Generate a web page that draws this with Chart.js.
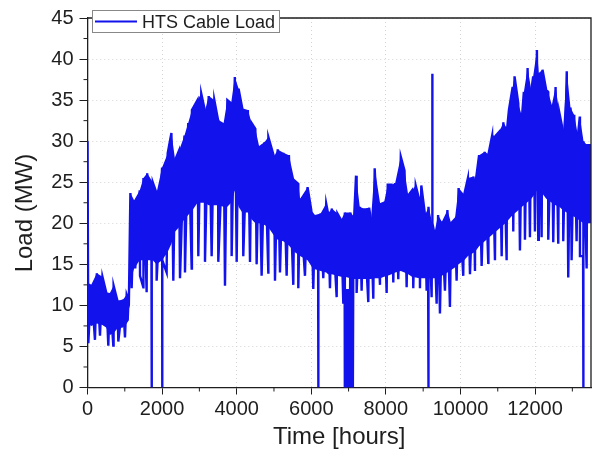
<!DOCTYPE html>
<html>
<head>
<meta charset="utf-8">
<title>HTS Cable Load</title>
<script src="https://cdn.jsdelivr.net/npm/chart.js@4.4.1/dist/chart.umd.min.js"></script>
<style>
    html, body { margin: 0; padding: 0; background: #fff; }
    canvas { display: block; }
</style>
</head>
<body>
<canvas id="loadChart" width="594" height="454"></canvas>
<script>

/* =========================
   DATA
========================= */

const seriesLabel = "HTS Cable Load";

// solid part of the band: upper envelope and the edge where it stops being solid
const bandHours = [
    0, 100, 250, 400, 500, 600, 700, 800, 950, 1050, 1110,
    1150, 1250, 1400, 1500, 1600, 1750, 1850, 2000, 2150, 2250,
    2350, 2450, 2600, 2700, 2800, 2950, 3050, 3150, 3250, 3400,
    3500, 3650, 3750, 3850, 3950, 4050, 4150, 4300, 4400, 4500,
    4600, 4750, 4850, 5000, 5100, 5250, 5400, 5550, 5650, 5700,
    5900, 6000, 6100, 6250, 6400, 6450, 6550, 6700, 6800, 6900,
    7050, 7150, 7200, 7300, 7400, 7550, 7600, 7700, 7850, 7950,
    8050, 8150, 8250, 8400, 8500, 8600, 8700, 8800, 8900, 8950,
    9050, 9150, 9300, 9400, 9500, 9650, 9750, 9850, 9950, 10100,
    10200, 10350, 10400, 10500, 10650, 10750, 10850, 10950, 11050, 11150,
    11250, 11300, 11400, 11450, 11550, 11650, 11700, 11800, 11900, 11950,
    12050, 12100, 12200, 12300, 12350, 12450, 12550, 12650, 12750, 12850,
    12950, 13050, 13150, 13200, 13300, 13400, 13500
];

const bandTop = [
    12.8, 12.5, 13.9, 13.5, 11.6, 11.5, 12.4, 10.6, 10.7, 11.3, 10.5,
    23.7, 22.8, 24.0, 25.5, 26.1, 25.0, 23.7, 26.8, 28.5, 31.0,
    27.7, 28.8, 30.7, 32.2, 33.8, 35.0, 35.8, 33.7, 35.5, 35.0,
    32.6, 32.2, 35.0, 34.6, 37.8, 36.4, 34.0, 33.8, 32.2, 31.5,
    29.4, 29.9, 30.5, 28.1, 29.0, 28.6, 28.3, 25.2, 24.8, 23.0,
    24.4, 21.6, 21.0, 21.2, 22.4, 21.2, 21.8, 21.2, 20.4, 21.3,
    21.3, 20.8, 25.8, 22.0, 21.8, 21.9, 20.4, 26.7, 22.3, 22.5,
    24.7, 24.7, 24.9, 28.1, 26.4, 23.4, 24.0, 24.6, 22.8, 24.6,
    21.0, 22.0, 18.8, 21.0, 20.2, 21.6, 20.0, 20.5, 24.3, 23.5,
    25.5, 25.7, 24.8, 28.3, 28.7, 28.4, 30.7, 30.7, 31.2, 32.3,
    31.5, 33.8, 36.6, 37.9, 34.6, 33.0, 36.0, 38.9, 36.2, 37.9,
    41.1, 38.3, 38.7, 36.2, 36.0, 34.4, 36.6, 33.5, 31.2, 38.5,
    34.1, 33.2, 30.7, 33.0, 30.0, 29.5, 29.5
];

const bandCore = [
    7.8, 7.5, 7.8, 7.6, 7.3, 6.4, 6.6, 7.2, 7.3, 7.8, 8.2,
    13.0, 14.5, 15.5, 15.5, 15.5, 15.5, 15.0, 15.5, 16.5, 17.5,
    19.0, 19.5, 20.5, 21.0, 21.5, 22.5, 22.5, 22.5, 22.2, 22.2,
    22.2, 22.0, 22.0, 22.5, 24.0, 22.0, 21.3, 21.3, 20.5, 20.0,
    20.0, 19.8, 19.5, 18.5, 18.0, 17.8, 17.3, 16.5, 16.2, 16.0,
    15.5, 14.8, 14.4, 14.2, 14.0, 13.8, 13.8, 13.6, 13.5, 13.5,
    13.3, 13.2, 13.2, 13.2, 13.2, 13.2, 13.2, 13.3, 13.3, 13.5,
    13.6, 13.8, 14.0, 14.2, 14.0, 13.8, 13.5, 13.4, 13.3, 13.3,
    13.3, 13.3, 13.3, 13.4, 13.6, 14.0, 14.3, 14.6, 15.0, 15.5,
    16.0, 16.4, 16.6, 17.2, 17.8, 18.2, 18.6, 19.0, 19.4, 19.8,
    20.2, 20.5, 21.0, 21.2, 21.6, 22.0, 22.2, 22.6, 23.0, 23.3,
    24.0, 24.0, 23.6, 23.0, 22.8, 22.5, 22.2, 22.0, 21.6, 21.3,
    21.0, 20.8, 20.5, 20.3, 20.0, 20.0, 20.0
];

// weekend dips below the band
const dipHours = [
    22, 200, 335, 558, 692, 826, 1005, 1184, 1280, 1408,
    1497, 1586, 1854, 2122, 2301, 2480, 2614, 2793, 2971, 3150,
    3329, 3507, 3686, 3865, 4000, 4177, 4357, 4535, 4669, 4848,
    5027, 5161, 5340, 5518, 5652, 5831, 6054, 6322, 6501, 6681,
    6859, 7216, 7350, 7529, 7663, 7842, 8021, 8199, 8333, 8557,
    8735, 8914, 9093, 9227, 9361, 9450, 9584, 9718, 9897, 10075,
    10255, 10389, 10568, 10745, 10925, 11105, 11238, 11416, 11595, 11729,
    11863, 11997, 12086, 12176, 12354, 12488, 12622, 12756, 12890, 12980,
    13114, 13204, 13383
];

const dipLoad = [
    5.4, 5.8, 6.3, 5.1, 5.1, 5.6, 6.1, 12.1, 14.5, 13.6,
    12.2, 11.6, 13.0, 14.0, 13.0, 13.3, 14.0, 14.5, 16.0, 15.3,
    16.0, 15.3, 12.4, 16.0, 15.3, 16.0, 15.3, 15.0, 13.6, 14.0,
    13.0, 14.0, 13.6, 12.5, 12.1, 13.6, 12.0, 13.3, 12.1, 11.0,
    10.2, 11.5, 11.8, 10.4, 10.8, 12.5, 11.5, 12.8, 13.2, 12.2,
    12.1, 12.1, 11.8, 11.0, 10.2, 9.0, 11.8, 9.8, 13.0, 13.6,
    13.8, 14.2, 14.8, 15.2, 15.5, 16.0, 15.5, 19.0, 16.7, 18.0,
    18.3, 19.0, 18.0, 18.3, 18.0, 17.7, 17.5, 17.8, 13.4, 15.5,
    17.8, 16.0, 14.5
];

// outages (drops to zero) and single surges
const spikeHours = [
    0,
    1715, 1720, 1725,
    2001, 2005, 2009,
    6184, 6188, 6192,
    6895, 6900, 6935, 6950, 6965, 7000, 7015, 7030, 7080, 7090, 7115, 7125,
    9133, 9137, 9141,
    9241, 9245, 9249,
    13288, 13292, 13296
];

const spikeLoad = [
    30.0,
    15.5, 0, 15.5,
    15.5, 0, 15.5,
    14.2, 0, 14.2,
    13.5, 0, 0, 12.0, 0, 0, 12.0, 0, 0, 13.0, 0, 13.0,
    13.3, 0, 13.3,
    20.0, 38.2, 20.0,
    16.0, 0, 16.0
];

const xTicks = [0, 2000, 4000, 6000, 8000, 10000, 12000];
const yTicks = [0, 5, 10, 15, 20, 25, 30, 35, 40, 45];

/* =========================
   BUILD SERIES
========================= */

const blue = "rgb(18, 18, 236)";
const ink = "#1e1e1e";
const fontName = '"Liberation Sans", Arial, sans-serif';

function toPoints(xs, ys) {
    return xs.map((x, i) => ({ x: x, y: ys[i] }));
}

const loadPoints = toPoints(bandHours, bandTop)
    .concat(toPoints(dipHours, dipLoad))
    .concat(toPoints(spikeHours, spikeLoad))
    .sort((a, b) => a.x - b.x);

/* =========================
   EXTRA DRAWING: frame, minor ticks, legend, titles
========================= */

const decorations = {
    id: "decorations",
    afterDraw(chart) {
        const ctx = chart.ctx;
        const area = chart.chartArea;
        const xs = chart.scales.x;
        const ys = chart.scales.y;

        ctx.save();

        // top / right frame
        ctx.strokeStyle = ink;
        ctx.lineWidth = 1.3;
        ctx.beginPath();
        ctx.moveTo(area.left, area.top);
        ctx.lineTo(area.right, area.top);
        ctx.lineTo(area.right, area.bottom);
        ctx.stroke();

        // minor ticks
        ctx.lineWidth = 1;
        ctx.beginPath();
        for (let v = 1000; v <= 13000; v += 2000) {
            const px = xs.getPixelForValue(v);
            ctx.moveTo(px, area.bottom);
            ctx.lineTo(px, area.bottom + 4);
        }
        for (let v = 2.5; v < 45; v += 5) {
            const py = ys.getPixelForValue(v);
            ctx.moveTo(area.left, py);
            ctx.lineTo(area.left - 4, py);
        }
        ctx.stroke();

        // legend box
        ctx.fillStyle = "#fff";
        ctx.fillRect(92, 10, 188, 22);
        ctx.strokeStyle = "#888";
        ctx.lineWidth = 1;
        ctx.strokeRect(92.5, 10.5, 187, 22);

        ctx.strokeStyle = blue;
        ctx.lineWidth = 2;
        ctx.beginPath();
        ctx.moveTo(95, 21.5);
        ctx.lineTo(137, 21.5);
        ctx.stroke();

        ctx.fillStyle = ink;
        ctx.font = "18px " + fontName;
        ctx.textAlign = "left";
        ctx.textBaseline = "alphabetic";
        ctx.fillText(chart.data.datasets[2].label, 142, 27.5);

        // axis titles
        ctx.font = "24px " + fontName;
        ctx.textAlign = "center";
        ctx.fillText("Time [hours]", (area.left + area.right) / 2, 444);

        ctx.translate(25, 213);
        ctx.rotate(-Math.PI / 2);
        ctx.textBaseline = "middle";
        ctx.fillText("Load (MW)", 0, 0);

        ctx.restore();
    }
};

/* =========================
   CHART
========================= */

new Chart(document.getElementById("loadChart"), {

    type: "line",

    data: {
        datasets: [
            {
                label: "band top",
                data: toPoints(bandHours, bandTop),
                borderWidth: 0,
                borderColor: blue,
                pointRadius: 0,
                fill: false
            },
            {
                label: "band core",
                data: toPoints(bandHours, bandCore),
                borderWidth: 0,
                borderColor: blue,
                backgroundColor: blue,
                pointRadius: 0,
                fill: "-1"
            },
            {
                label: seriesLabel,
                data: loadPoints,
                borderColor: blue,
                borderWidth: 2.4,
                pointRadius: 0,
                tension: 0,
                fill: false
            }
        ]
    },

    options: {
        responsive: false,
        animation: false,
        devicePixelRatio: 1,
        layout: {
            padding: { top: 18, right: 3, left: 0, bottom: 0 }
        },
        plugins: {
            legend: { display: false },
            tooltip: { enabled: false }
        },
        scales: {
            x: {
                type: "linear",
                min: 0,
                max: 13500,
                afterBuildTicks: s => { s.ticks = xTicks.map(v => ({ value: v })); },
                afterFit: s => { s.height = 66.5; },
                ticks: {
                    color: ink,
                    font: { family: fontName, size: 20 },
                    padding: 3,
                    maxRotation: 0,
                    autoSkip: false,
                    callback: v => String(v)
                },
                grid: {
                    color: "#d4d4d4",
                    tickColor: ink,
                    tickLength: 7
                },
                border: {
                    color: ink,
                    width: 1.3,
                    dash: [1, 3]
                }
            },
            y: {
                min: 0,
                max: 45,
                afterBuildTicks: s => { s.ticks = yTicks.map(v => ({ value: v })); },
                afterFit: s => { s.width = 87.5; },
                ticks: {
                    color: ink,
                    font: { family: fontName, size: 20 },
                    padding: 6,
                    callback: v => String(v)
                },
                grid: {
                    color: "#d4d4d4",
                    tickColor: ink,
                    tickLength: 8
                },
                border: {
                    color: ink,
                    width: 1.3,
                    dash: [1, 3]
                }
            }
        }
    },

    plugins: [decorations]
});

</script>
</body>
</html>
